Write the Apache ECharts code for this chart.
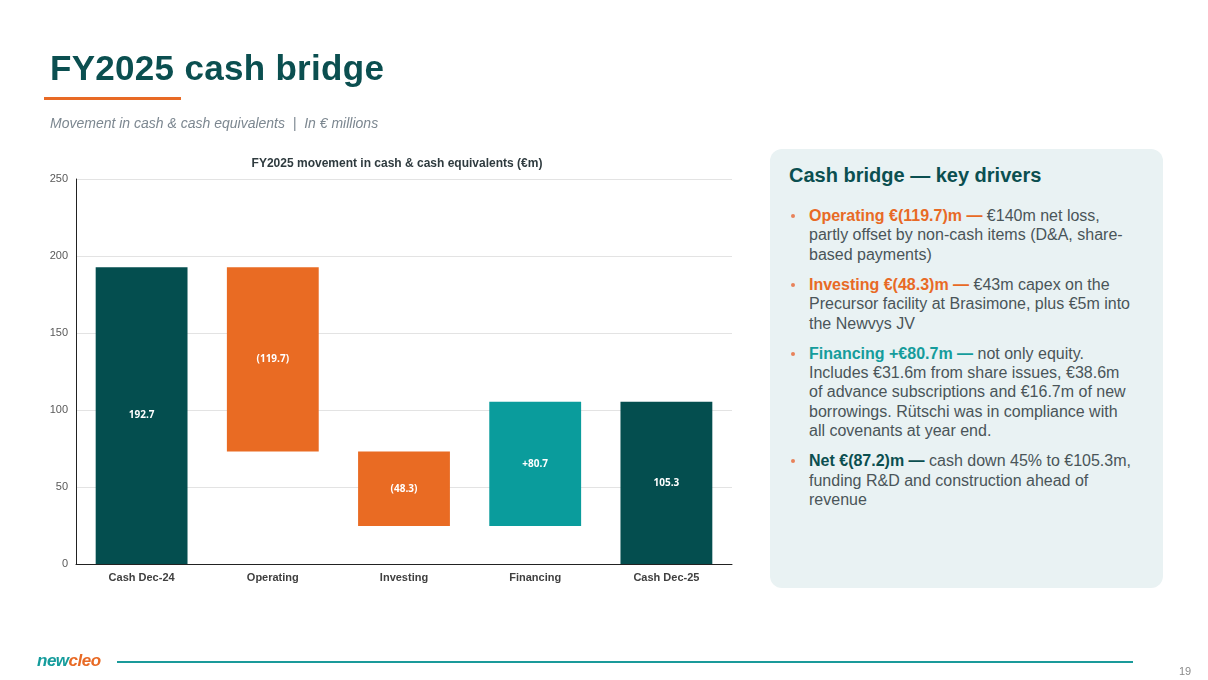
<!DOCTYPE html>
<html>
<head>
<meta charset="utf-8">
<script src="https://cdn.jsdelivr.net/npm/echarts@6/dist/echarts.min.js"></script>
<style>
  html,body{margin:0;padding:0;width:1208px;height:680px;background:#fff;overflow:hidden;font-family:"Liberation Sans",Arial,sans-serif;}
  #title{position:absolute;left:50px;top:48px;font-size:35px;font-weight:bold;color:#0B4F50;letter-spacing:0.3px;}
  #uline{position:absolute;left:44px;top:97px;width:137px;height:3px;background:#E86A25;}
  #sub{position:absolute;left:50px;top:115px;font-size:14px;font-style:italic;color:#7C8790;}
  #chart{position:absolute;left:0;top:0;width:1208px;height:680px;}
  #panel{position:absolute;left:770px;top:149px;width:393px;height:439px;background:#E9F2F3;border-radius:12px;}
  #panel h2{position:absolute;left:19px;top:15px;margin:0;font-size:20px;font-weight:bold;color:#0B4F50;}
  #panel ul{position:absolute;left:19px;top:57px;width:345px;margin:0;padding:0;list-style:none;}
  #panel li{position:relative;padding-left:20px;font-size:16px;line-height:19.4px;color:#4A5559;margin-bottom:10.6px;}
  #panel li:before{content:"";position:absolute;left:2px;top:8px;width:4px;height:4px;border-radius:2px;background:#E8825A;}
  .o{color:#E86A25;font-weight:bold;}
  .t{color:#159C9C;font-weight:bold;}
  .d{color:#0B4F50;font-weight:bold;}
  #fline{position:absolute;left:117px;top:661px;width:1016px;height:2px;background:#1A9A9A;}
  #logo{position:absolute;left:37px;top:651px;font-size:17px;font-weight:bold;font-style:italic;letter-spacing:-0.5px;}
  #logo .n{color:#159C9C;} #logo .c{color:#E86A25;}
  #pg{position:absolute;left:1179px;top:665px;font-size:11px;color:#8A8A8A;}
</style>
</head>
<body>
<div id="chart"></div>
<div id="title">FY2025 cash bridge</div>
<div id="uline"></div>
<div id="sub">Movement in cash &amp; cash equivalents&nbsp; |&nbsp; In € millions</div>
<div id="panel">
  <h2>Cash bridge — key drivers</h2>
  <ul>
    <li><span class="o">Operating €(119.7)m —</span> €140m net loss, partly offset by non-cash items (D&amp;A, share-based payments)</li>
    <li><span class="o">Investing €(48.3)m —</span> €43m capex on the Precursor facility at Brasimone, plus €5m into the Newvys JV</li>
    <li><span class="t">Financing +€80.7m —</span> not only equity. Includes €31.6m from share issues, €38.6m of advance subscriptions and €16.7m of new borrowings. Rütschi was in compliance with all covenants at year end.</li>
    <li><span class="d">Net €(87.2)m —</span> cash down 45% to €105.3m, funding R&amp;D and construction ahead of revenue</li>
  </ul>
</div>
<div id="logo"><span class="n">new</span><span class="c">cleo</span></div>
<div id="fline"></div>
<div id="pg">19</div>
<script>
const categories = ['Cash Dec-24', 'Operating', 'Investing', 'Financing', 'Cash Dec-25'];
const changes = [192.7, -119.7, -48.3, 80.7, 105.3];
const isTotal = [true, false, false, false, true];
const barLabels = ['192.7', '(119.7)', '(48.3)', '+80.7', '105.3'];
const yTicks = [0, 50, 100, 150, 200, 250];

const colTotal = '#044E4F', colNeg = '#E96B23', colPos = '#0A9C9C';

// build waterfall base/height from the arrays
let running = 0;
const baseData = [], barData = [];
changes.forEach((v, i) => {
  if (isTotal[i]) {
    baseData.push(0);
    barData.push({ value: v, itemStyle: { color: colTotal } });
    running = v;
  } else if (v < 0) {
    running = running + v;
    baseData.push(running);
    barData.push({ value: -v, itemStyle: { color: colNeg } });
  } else {
    baseData.push(running);
    barData.push({ value: v, itemStyle: { color: colPos } });
    running = running + v;
  }
});

const chart = echarts.init(document.getElementById('chart'));
chart.setOption({
  animation: false,
  title: {
    text: 'FY2025 movement in cash & cash equivalents (€m)',
    left: 392, top: 153, textAlign: 'center',
    textStyle: { fontSize: 12, fontWeight: 'bold', color: '#2F3B3F', fontFamily: 'Liberation Sans' }
  },
  grid: { left: 76, right: 476, top: 179, bottom: 116 },
  xAxis: {
    type: 'category', data: categories,
    axisLine: { lineStyle: { color: '#222', width: 1 } },
    axisTick: { show: false },
    axisLabel: { fontSize: 11, fontWeight: 'bold', color: '#404040', margin: 8, fontFamily: 'Liberation Sans' }
  },
  yAxis: {
    type: 'value', min: yTicks[0], max: yTicks[yTicks.length - 1], interval: 50,
    axisLine: { show: true, lineStyle: { color: '#222', width: 1 } },
    axisTick: { show: false },
    axisLabel: { fontSize: 11, color: '#595959', margin: 8, fontFamily: 'Liberation Sans' },
    splitLine: { lineStyle: { color: '#E3E3E3' } }
  },
  series: [
    { type: 'bar', stack: 'w', data: baseData, itemStyle: { color: 'transparent' }, barWidth: '70%', silent: true },
    {
      type: 'bar', stack: 'w', data: barData, barWidth: '70%',
      label: {
        show: true, position: 'inside', color: '#fff', fontSize: 10, fontWeight: 'bold',
        fontFamily: 'Open Sans',
        formatter: p => barLabels[p.dataIndex]
      }
    }
  ]
});
</script>
</body>
</html>
